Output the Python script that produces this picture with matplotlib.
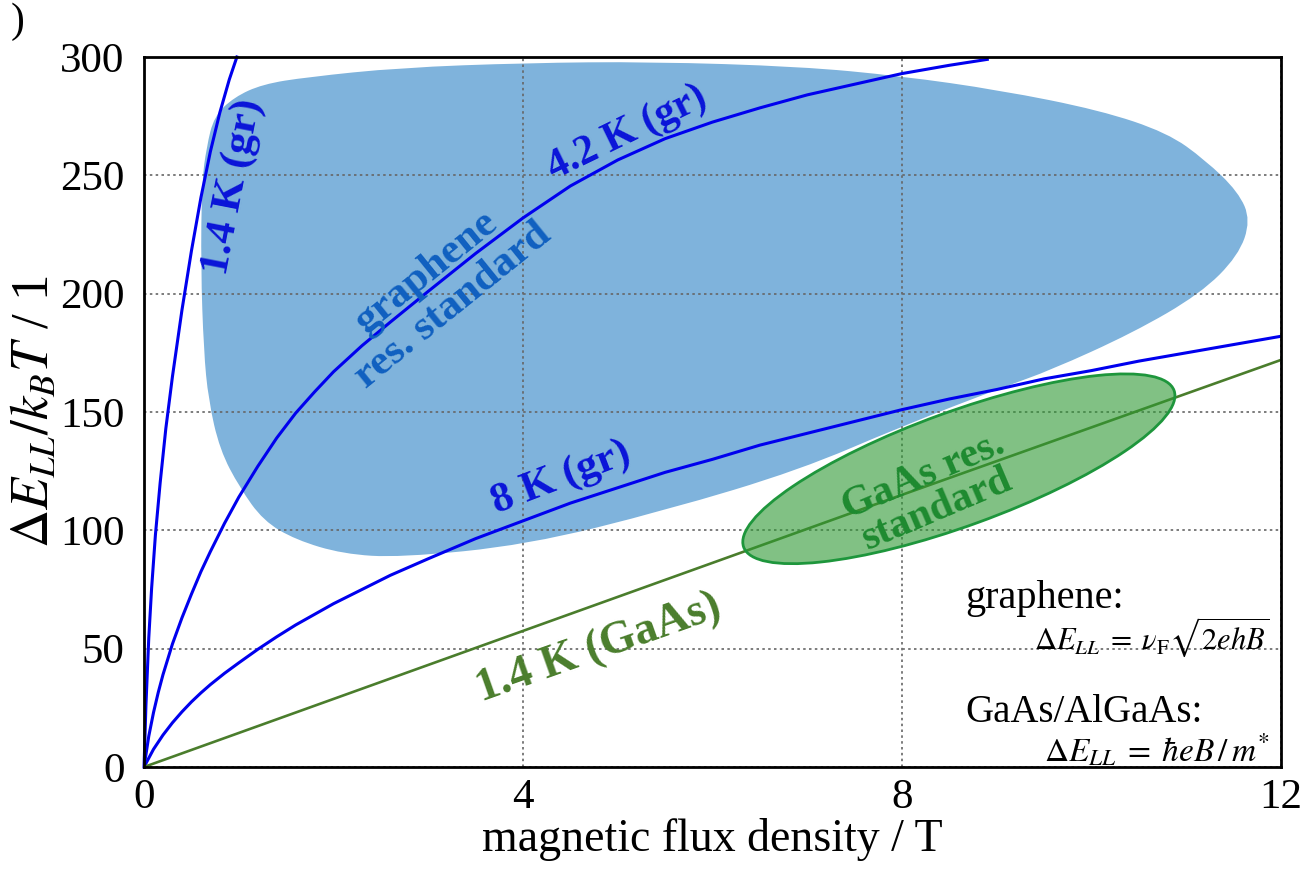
import numpy as np
import matplotlib
matplotlib.use("Agg")
import matplotlib.pyplot as plt
import matplotlib.patches as mpatches
import matplotlib.transforms as mtransforms
from matplotlib.path import Path

plt.rcParams['font.family'] = ['Liberation Serif', 'DejaVu Serif']
plt.rcParams['mathtext.fontset'] = 'stix'

# curves (B in T, dE/kT dimensionless)
b_14k = [0, 0.02, 0.05, 0.08, 0.12, 0.17, 0.23, 0.3, 0.4, 0.5, 0.6, 0.7, 0.8, 0.9, 0.98]
e_14k = [0, 26, 54.5, 75.5, 98, 120, 143, 165, 193, 218, 240.5, 260, 276.5, 290.5, 300]

b_42k = [0, 0.05, 0.1, 0.15, 0.2, 0.3, 0.4, 0.5, 0.6, 0.7, 0.85, 1.0, 1.2, 1.4, 1.6, 1.8, 2.0,
         2.3, 2.6, 3.0, 3.5, 4.0, 4.5, 5.0, 5.5, 6.0, 6.5, 7.0, 7.5, 8.0, 8.5, 8.9]
e_42k = [0, 13, 23, 31.5, 39, 52, 63, 73, 82.5, 91, 103, 114, 127, 139, 149.5, 158.5, 167,
         178, 188, 201, 217, 232, 245.5, 256.5, 265.5, 272.5, 278.5, 284, 288.5, 293, 296.5, 299]

b_8k = [0, 0.1, 0.2, 0.3, 0.4, 0.5, 0.6, 0.7, 0.85, 1.0, 1.2, 1.4, 1.6, 1.8, 2.0, 2.3, 2.6, 3.0,
        3.5, 4.0, 4.5, 5.0, 5.5, 6.0, 6.5, 7.0, 7.5, 8.0, 8.5, 9.0, 9.5, 10.0, 10.5, 11.0, 11.5, 12.0]
e_8k = [0, 7.5, 13.5, 18.7, 23.3, 27.5, 31.3, 34.8, 39.6, 44, 49.7, 55, 60, 64.5, 69, 75, 81, 88,
        96.5, 104, 111.5, 118, 124.5, 130, 136, 141, 146, 151, 155.5, 159.5, 164, 167.5, 171.5, 175, 178.5, 182]

b_gaas = [0, 4, 8, 12]
e_gaas = [0, 57.5, 115, 172]

# outline of the graphene resistance standard region
blob_x = [0.95, 1.25, 1.72, 2.70, 4.04, 5.34, 6.92, 7.98, 9.03, 10.09, 10.8, 11.2, 11.55, 11.68,
          11.55, 11.15, 10.44, 9.56, 9.1, 8.0, 6.92, 5.52, 4.04, 2.70, 2.1, 1.6, 1.26, 1.01,
          0.80, 0.68, 0.63, 0.60, 0.61, 0.66, 0.74]
blob_y = [283, 288.5, 291.5, 295.5, 297.5, 298, 296, 292, 286, 277.5, 268, 256.5, 243, 231,
          216, 200, 183.5, 167.5, 161, 144, 125.5, 108.6, 93.8, 88.5, 90, 96, 104, 118,
          134, 155, 176, 211, 247, 262, 275]

# GaAs standard ellipse: centre in data units, size in pixels
gaas_centre = (8.6, 126)
gaas_size = (458, 114)
gaas_angle = 20

fig = plt.figure(figsize=(13.07, 8.69), dpi=100)
ax = fig.add_axes([0.1102, 0.1174, 0.8699, 0.8170])
ax.set_xlim(0, 12)
ax.set_ylim(0, 300)

# blob as smooth quadratic path through the outline points
pts = np.column_stack([blob_x, blob_y])
mids = (pts + np.roll(pts, -1, axis=0)) / 2
verts = [mids[-1]]
codes = [Path.MOVETO]
for i in range(len(pts)):
    verts += [pts[i], mids[i]]
    codes += [Path.CURVE3, Path.CURVE3]
verts.append(mids[-1])
codes.append(Path.CLOSEPOLY)
ax.add_patch(mpatches.PathPatch(Path(verts, codes), facecolor='#7fb3dc', edgecolor='none', zorder=1))

ax.plot(b_14k, e_14k, color='#0000ee', lw=2.2, zorder=2, clip_on=False)
ax.plot(b_42k, e_42k, color='#0000ee', lw=2.2, zorder=2)
ax.plot(b_8k, e_8k, color='#0000ee', lw=2.2, zorder=2)
ax.plot(b_gaas, e_gaas, color='#4a7d2c', lw=1.9, zorder=2)

trans = mtransforms.Affine2D() + mtransforms.ScaledTranslation(gaas_centre[0], gaas_centre[1], ax.transData)
ell = mpatches.Ellipse((0, 0), gaas_size[0], gaas_size[1], angle=gaas_angle, transform=trans,
                       facecolor=(0.18, 0.6, 0.2, 0.6), edgecolor='#1e963c', lw=2, zorder=3)
ax.add_patch(ell)

# curve labels
bold = dict(fontweight='bold', ha='center', va='center', rotation_mode='anchor')
ax.text(0.94, 245, '1.4 K (gr)', color='#0a14d8', rotation=79, fontsize=31, **bold)
ax.text(5.1, 268, '4.2 K (gr)', color='#0a14d8', rotation=26, fontsize=30, **bold)
ax.text(4.4, 122, '8 K (gr)', color='#0a14d8', rotation=21, fontsize=31, **bold)
ax.text(4.8, 50, '1.4 K (GaAs)', color='#4a7d2c', rotation=19.5, fontsize=33, **bold)
ax.text(3.12, 202, 'graphene\nres. standard', color='#1060c0', rotation=39, fontsize=31,
        multialignment='center', linespacing=1.15, **bold)
ax.text(8.3, 116, 'GaAs res.\nstandard', color='#1e8a30', rotation=23, fontsize=30,
        multialignment='center', linespacing=0.95, **bold)

ax.text(8.67, 71, 'graphene:', fontsize=29, ha='left', va='center')
ax.text(11.88, 55, r'$\Delta E_{LL}\;=\;\nu_{\mathrm{F}}\sqrt{2ehB}$', fontsize=22, ha='right', va='center')
ax.text(8.67, 23, 'GaAs/AlGaAs:', fontsize=28, ha='left', va='center')
ax.text(11.88, 7, r'$\Delta E_{LL}\;=\;\hbar eB\,/\,m^{*}$', fontsize=24, ha='right', va='center')

ax.set_xticks([0, 4, 8, 12])
ax.set_yticks([0, 50, 100, 150, 200, 250, 300])
ax.tick_params(axis='both', length=0, labelsize=31)
ax.tick_params(axis='y', pad=14)
ax.tick_params(axis='x', pad=8)
ax.grid(True, linestyle=(0, (1.5, 2)), color='#666666', lw=1.2)
for s in ax.spines.values():
    s.set_linewidth(2)

ax.set_xlabel('magnetic flux density / T', fontsize=33)
ax.xaxis.set_label_coords(0.5, -0.072)
ax.set_ylabel(r'$\Delta E_{LL}/k_B T$ / 1', fontsize=38)
ax.yaxis.set_label_coords(-0.074, 0.5)

fig.text(0.008, 0.975, ')', fontsize=30, ha='left', va='center')

fig.savefig('out.png', dpi=100)
